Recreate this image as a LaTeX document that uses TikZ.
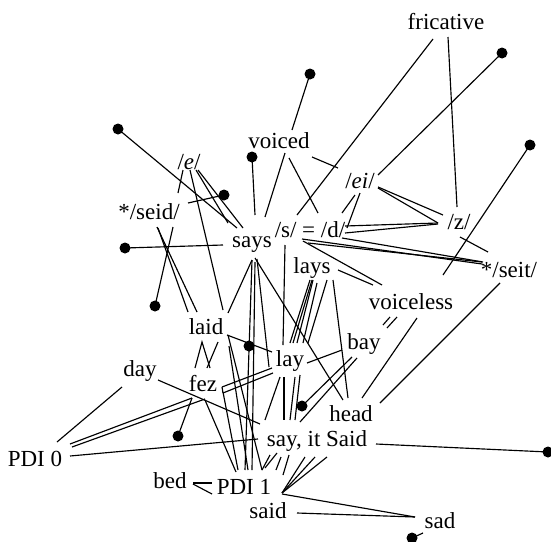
\documentclass[tikz,border=0pt]{standalone}
\usepackage{fontspec}
\setmainfont{Liberation Serif}
\begin{document}
\begin{tikzpicture}[x=1pt,y=-1pt,
  lbl/.style={inner sep=0pt, font=\fontsize{23}{27}\selectfont},
  ln/.style={line width=1.15pt},
  dotp/.style={circle, fill=black, inner sep=0pt, minimum size=11pt}]
\useasboundingbox (0,0) rectangle (551,541);
% labels
\node[lbl] (fricative) at (446,22) {fricative};
\node[lbl] (voiced) at (279,141) {voiced};
\node[lbl] (e) at (189,162) {/\textit{e}/};
\node[lbl] (seid) at (149,212) {*/seid/};
\node[lbl] (says) at (252,245) {says};
\node[lbl] (sd) at (310,230) {/s/ = /d/};
\node[lbl] (ei) at (360,181) {/\textit{ei}/};
\node[lbl] (z) at (459,222) {/z/};
\node[lbl] (seit) at (509,270) {*/seit/};
\node[lbl] (lays) at (312,268) {lays};
\node[lbl] (voiceless) at (411,302) {voiceless};
\node[lbl] (bay) at (364,344) {bay};
\node[lbl] (lay) at (290,361) {lay};
\node[lbl] (laid) at (206,327) {laid};
\node[lbl] (day) at (140,371) {day};
\node[lbl] (fez) at (203,384) {fez};
\node[lbl] (head) at (351,414) {head};
\node[lbl] (say) at (317,441) {say, it Said};
\node[lbl] (pdi0) at (35,459) {PDI 0};
\node[lbl] (bed) at (170,481) {bed};
\node[lbl] (pdi1) at (244,487) {PDI 1};
\node[lbl] (said) at (268,511) {said};
\node[lbl] (sad) at (440,521) {sad};
% dots
\node[dotp] (d1) at (118,129) {};
\node[dotp] (d2) at (310,74) {};
\node[dotp] (d3) at (252,157) {};
\node[dotp] (d4) at (224,195) {};
\node[dotp] (d5) at (125,248) {};
\node[dotp] (d6) at (155,306) {};
\node[dotp] (d7) at (249,346) {};
\node[dotp] (d8) at (302,406) {};
\node[dotp] (d9) at (178,436) {};
\node[dotp] (d10) at (548,452) {};
\node[dotp] (d11) at (412,538) {};
\node[dotp] (d12) at (502,53) {};
\node[dotp] (d13) at (530,145) {};
% upper lines
\draw[ln] (d1.center) -- (237,228);
\draw[ln] (183,170) -- (178,193);
\draw[ln] (190,170) -- (223,310);
\draw[ln] (196,170) -- (228,223);
\draw[ln] (198,170) -- (243,228);
\draw[ln] (d4.center) -- (188,203);
\draw[ln] (d5.center) -- (223,245);
\draw[ln] (d3.center) -- (255,215);
\draw[ln] (285,153) -- (265,217);
\draw[ln] (289,158) -- (318,213);
\draw[ln] (312,157) -- (338,168);
\draw[ln] (d2.center) -- (292,130);
\draw[ln] (433,39) -- (297,215);
\draw[ln] (d12.center) -- (378,175);
\draw[ln] (448,37) -- (457,207);
\draw[ln] (378,187) -- (443,215);
\draw[ln] (378,188) -- (438,223);
\draw[ln] (355,195) -- (342,213);
\draw[ln] (360,193) -- (347,228);
\draw[ln] (345,226) -- (438,223);
\draw[ln] (345,233) -- (438,224);
\draw[ln] (460,237) -- (488,252);
\draw[ln] (d13.center) -- (443,275);
\draw[ln] (302,239) -- (482,264);
\draw[ln] (308,243) -- (482,262);
\draw[ln] (342,238) -- (483,262);
\draw[ln] (303,241) -- (382,285);
\draw[ln] (338,270) -- (373,285);
% seid
\draw[ln] (173,227) -- (d6.center);
\draw[ln] (157,227) -- (197,312);
\draw[ln] (158,228) -- (188,312);
% says
\draw[ln] (252,260) -- (228,313);
\draw[ln] (252,260) -- (245,470);
\draw[ln] (255,262) -- (252,470);
\draw[ln] (255,258) -- (343,400);
\draw[ln] (257,259) -- (269,367);
\draw[ln] (285,245) -- (283,345);
% lays
\draw[ln] (310,280) -- (290,343);
\draw[ln] (312,280) -- (293,343);
\draw[ln] (313,280) -- (297,343);
\draw[ln] (317,283) -- (303,343);
\draw[ln] (327,280) -- (308,343);
\draw[ln] (333,280) -- (348,398);
% laid
\draw[ln] (195,368) -- (202,342) -- (210,368);
\draw[ln] (218,342) -- (207,368);
\draw[ln] (227,335) -- (272,352);
\draw[ln] (228,335) -- (262,470);
\draw[ln] (229,346) -- (248,470);
% fez
\draw[ln] (222,387) -- (272,368);
\draw[ln] (223,393) -- (273,373);
\draw[ln] (222,387) -- (223,393);
\draw[ln] (223,392) -- (238,470);
\draw[ln] (205,400) -- (236,472);
\draw[ln] (192,398) -- (d9.center);
% day, PDI 0
\draw[ln] (122,387) -- (57,442);
\draw[ln] (70,444) -- (192,398);
\draw[ln] (72,447) -- (205,399);
\draw[ln] (70,456) -- (258,439);
\draw[ln] (158,380) -- (260,424);
% bay, lay
\draw[ln] (342,350) -- (307,363);
\draw[ln] (d8.center) -- (352,357);
\draw[ln] (300,422) -- (357,358);
\draw[ln] (280,377) -- (265,420);
\draw[ln] (284,377) -- (284,420);
\draw[ln] (295,377) -- (290,420);
\draw[ln] (300,375) -- (295,420);
% voiceless, seit, head
\draw[ln] (417,318) -- (362,398);
\draw[ln] (500,283) -- (380,403);
\draw[ln] (383,325) -- (390,317);
\draw[ln] (387,328) -- (397,317);
% bottom
\draw[ln] (193,483) -- (212,483);
\draw[ln] (193,484) -- (212,494);
\draw[ln] (262,470) -- (270,455);
\draw[ln] (265,468) -- (277,453);
\draw[ln] (276,470) -- (281,457);
\draw[ln] (283,475) -- (289,455);
\draw[ln] (282,493) -- (305,457);
\draw[ln] (282,493) -- (315,457);
\draw[ln] (282,493) -- (327,457);
\draw[ln] (282,494) -- (415,517);
\draw[ln] (297,513) -- (415,517);
\draw[ln] (d11.center) -- (423,533);
\draw[ln] (376,444) -- (d10.center);
\end{tikzpicture}
\end{document}
